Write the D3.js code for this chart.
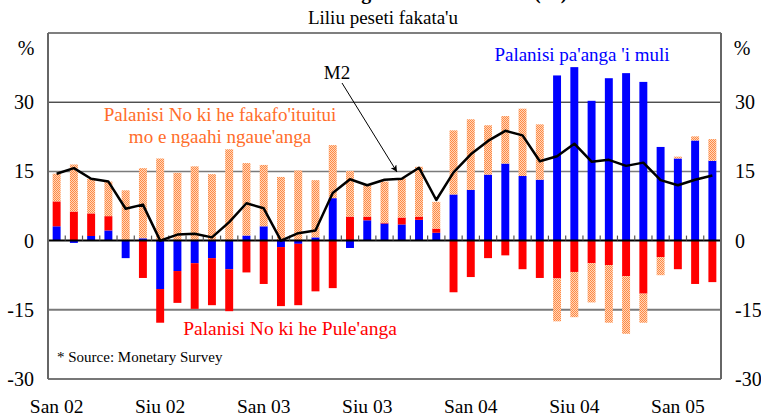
<!DOCTYPE html>
<html>
<head>
<meta charset="utf-8">
<script src="https://cdn.jsdelivr.net/npm/d3@7"></script>
<style>
  html, body { margin: 0; padding: 0; background: #fff; }
  svg { display: block; }
</style>
</head>
<body>
<div id="chart"></div>
<script>
// ---- Data ----
const months = ["Jan02","Feb02","Mar02","Apr02","May02","Jun02","Jul02","Aug02","Sep02","Oct02","Nov02","Dec02",
  "Jan03","Feb03","Mar03","Apr03","May03","Jun03","Jul03","Aug03","Sep03","Oct03","Nov03","Dec03",
  "Jan04","Feb04","Mar04","Apr04","May04","Jun04","Jul04","Aug04","Sep04","Oct04","Nov04","Dec04",
  "Jan05","Feb05","Mar05"];
const xTickLabels = ["San 02","Siu 02","San 03","Siu 03","San 04","Siu 04","San 05"];
const xTickMonths = ["Jan02","Jul02","Jan03","Jul03","Jan04","Jul04","Jan05"];
const yTicks = [-30, -15, 0, 15, 30];

// Net foreign assets (Palanisi pa'anga 'i muli)
const foreignAssets = [3.1,-0.5,1.0,2.2,-3.8,0.5,-10.5,-6.6,-4.9,-3.8,-6.2,1.1,
  3.1,-1.4,-0.7,0.7,9.2,-1.6,4.4,3.7,3.5,4.5,1.7,10.0,
  11.0,14.3,16.7,14.0,13.2,35.8,37.6,30.3,35.2,36.3,34.4,20.3,
  17.8,21.7,17.3];
// Net credit to government (Palanisi No ki he Pule'anga)
const govCredit = [5.4,6.3,4.9,3.1,0.0,-8.1,-7.3,-6.9,-9.9,-10.2,-9.1,-6.9,
  -9.4,-12.8,-13.3,-11.0,-10.3,5.2,0.8,0.2,1.5,0.7,0.9,-11.2,
  -7.9,-3.8,-3.2,-6.2,-8.1,-8.2,-6.8,-4.9,-5.3,-7.7,-11.5,-3.6,
  -6.2,-9.4,-9.0];
// Credit to private sector & enterprises
const privateCredit = [6.0,10.2,7.5,7.5,10.9,15.2,17.8,14.7,16.1,14.4,19.8,15.7,
  13.3,13.8,15.2,12.4,11.5,9.9,6.8,8.9,8.5,10.8,5.8,13.9,
  15.3,10.7,10.3,14.6,12.0,-9.3,-9.8,-8.5,-12.5,-12.5,-6.3,-3.9,
  0.4,0.9,4.7];
// M2 growth
const m2 = [14.5,15.7,13.4,12.8,6.9,7.8,0.0,1.3,1.5,0.7,4.0,8.1,
  7.0,0.0,1.6,2.2,10.3,13.3,12.0,13.2,13.4,15.8,8.8,14.8,
  18.7,21.6,23.8,22.8,17.2,18.3,21.0,17.1,17.5,16.2,16.9,13.1,
  12.0,13.2,14.1];

const seriesKeys = ["foreign","gov","private"];
const seriesColors = { foreign: "#0000FF", gov: "#FF0000", private: "url(#dots)" };

// ---- Layout ----
const W = 761, H = 416;
const plot = { left: 48, right: 721, top: 33, bottom: 379 };
const FONT = "'Liberation Serif', 'Times New Roman', Tinos, serif";

const svg = d3.select("#chart").append("svg")
  .attr("width", W).attr("height", H)
  .style("font-family", FONT);

const defs = svg.append("defs");
const pat = defs.append("pattern").attr("id", "dots")
  .attr("patternUnits", "userSpaceOnUse").attr("width", 2).attr("height", 2);
pat.append("rect").attr("width", 2).attr("height", 2).attr("fill", "#FFD6BA");
pat.append("rect").attr("x", 0).attr("y", 0).attr("width", 1).attr("height", 1).attr("fill", "#FF8A45");
pat.append("rect").attr("x", 1).attr("y", 1).attr("width", 1).attr("height", 1).attr("fill", "#FF8A45");

const x = d3.scaleBand().domain(months).range([plot.left, plot.right]).paddingInner(0).paddingOuter(0);
const y = d3.scaleLinear().domain([-30, 45]).range([plot.bottom, plot.top]);
const barW = x.bandwidth() * 0.46;

function txt(sel) { return sel.style("font-family", FONT); }

// Title (clipped at top, as in the reference)
txt(svg.append("text"))
  .attr("x", 383).attr("y", -1)
  .attr("text-anchor", "middle")
  .attr("font-size", 20).attr("font-weight", "bold")
  .text("Tefito'i Me'a 'o e Ngaahi Liliu 'i he M2 (%)");

txt(svg.append("text"))
  .attr("x", 383).attr("y", 24)
  .attr("text-anchor", "middle")
  .attr("font-size", 19)
  .text("Liliu peseti fakata'u");

// Gridlines
const gridStyle = { "30": ["#000", 1], "15": ["#7a7a7a", 1.5], "-15": ["#7a7a7a", 2] };
[30, 15, -15].forEach(v => {
  svg.append("line")
    .attr("x1", plot.left).attr("x2", plot.right)
    .attr("y1", y(v)).attr("y2", y(v))
    .attr("stroke", gridStyle[v][0]).attr("stroke-width", gridStyle[v][1]);
});

// Stacked bars
const table = months.map((m, i) => ({ month: m, foreign: foreignAssets[i], gov: govCredit[i], private: privateCredit[i] }));
const stack = d3.stack().keys(seriesKeys).offset(d3.stackOffsetDiverging);
const stacked = stack(table);

svg.append("g").selectAll("g")
  .data(stacked).join("g")
  .attr("fill", d => seriesColors[d.key])
  .selectAll("rect")
  .data(d => d).join("rect")
  .attr("x", d => x(d.data.month) + (x.bandwidth() - barW) / 2)
  .attr("width", barW)
  .attr("y", d => y(Math.max(d[0], d[1])))
  .attr("height", d => Math.abs(y(d[0]) - y(d[1])));

// Zero line with tick marks at band boundaries
svg.append("line")
  .attr("x1", plot.left).attr("x2", plot.right)
  .attr("y1", y(0)).attr("y2", y(0))
  .attr("stroke", "#000").attr("stroke-width", 2);
svg.append("g").selectAll("line")
  .data(months.slice(1)).join("line")
  .attr("x1", d => x(d)).attr("x2", d => x(d))
  .attr("y1", y(0) - 5).attr("y2", y(0))
  .attr("stroke", "#555").attr("stroke-width", 1.2);

// M2 line
const line = d3.line()
  .x((d, i) => x(months[i]) + x.bandwidth() / 2)
  .y(d => y(d));
svg.append("path")
  .datum(m2)
  .attr("d", line)
  .attr("fill", "none")
  .attr("stroke", "#000")
  .attr("stroke-width", 2.5)
  .attr("stroke-linejoin", "round");

// Frame
svg.append("line").attr("x1", plot.left).attr("x2", plot.right).attr("y1", plot.top).attr("y2", plot.top)
  .attr("stroke", "#000").attr("stroke-width", 1.2);
svg.append("line").attr("x1", plot.left).attr("x2", plot.right).attr("y1", plot.bottom).attr("y2", plot.bottom)
  .attr("stroke", "#777").attr("stroke-width", 2);
svg.append("line").attr("x1", plot.left).attr("x2", plot.left).attr("y1", plot.top).attr("y2", plot.bottom)
  .attr("stroke", "#666").attr("stroke-width", 2);
svg.append("line").attr("x1", plot.right).attr("x2", plot.right).attr("y1", plot.top).attr("y2", plot.bottom)
  .attr("stroke", "#666").attr("stroke-width", 2);

// Y tick labels
txt(svg.append("g")).selectAll("text")
  .data(yTicks).join("text")
  .style("font-family", FONT)
  .attr("x", 34).attr("y", d => y(d)).attr("dy", "0.35em")
  .attr("text-anchor", "end").attr("font-size", 20)
  .text(d => d);
txt(svg.append("g")).selectAll("text")
  .data(yTicks).join("text")
  .style("font-family", FONT)
  .attr("x", 735).attr("y", d => y(d)).attr("dy", "0.35em")
  .attr("text-anchor", "start").attr("font-size", 20)
  .text(d => d);
txt(svg.append("text")).attr("x", 26).attr("y", 55).attr("text-anchor", "middle").attr("font-size", 20).text("%");
txt(svg.append("text")).attr("x", 742).attr("y", 55).attr("text-anchor", "middle").attr("font-size", 20).text("%");

// X tick labels
txt(svg.append("g")).selectAll("text")
  .data(xTickLabels).join("text")
  .style("font-family", FONT)
  .attr("x", (d, i) => x(xTickMonths[i]) + x.bandwidth() / 2)
  .attr("y", 413)
  .attr("text-anchor", "middle").attr("font-size", 19.5)
  .text(d => d);

// Annotations
txt(svg.append("text")).attr("x", 337).attr("y", 79).attr("text-anchor", "middle")
  .attr("font-size", 19).text("M2");
defs.append("marker").attr("id", "arrow")
  .attr("viewBox", "0 0 10 10").attr("refX", 10).attr("refY", 5)
  .attr("markerWidth", 7).attr("markerHeight", 7).attr("orient", "auto")
  .append("path").attr("d", "M0,0 L10,5 L0,10 L3,5 Z").attr("fill", "#000");
svg.append("line")
  .attr("x1", 342).attr("y1", 83).attr("x2", 397).attr("y2", 172)
  .attr("stroke", "#000").attr("stroke-width", 1)
  .attr("marker-end", "url(#arrow)");

txt(svg.append("text")).attr("x", 220).attr("y", 121).attr("text-anchor", "middle")
  .attr("font-size", 19).attr("fill", "#FF6D2A").text("Palanisi No ki he fakafo'ituitui");
txt(svg.append("text")).attr("x", 220).attr("y", 143).attr("text-anchor", "middle")
  .attr("font-size", 19).attr("fill", "#FF6D2A").text("mo e ngaahi ngaue'anga");

txt(svg.append("text")).attr("x", 582).attr("y", 61).attr("text-anchor", "middle")
  .attr("font-size", 19).attr("fill", "#0000FF").text("Palanisi pa'anga 'i muli");

txt(svg.append("text")).attr("x", 290).attr("y", 335).attr("text-anchor", "middle")
  .attr("font-size", 19.5).attr("fill", "#FF0000").text("Palanisi No ki he Pule'anga");

txt(svg.append("text")).attr("x", 57).attr("y", 362).attr("text-anchor", "start")
  .attr("font-size", 15).text("* Source: Monetary Survey");
</script>
</body>
</html>
